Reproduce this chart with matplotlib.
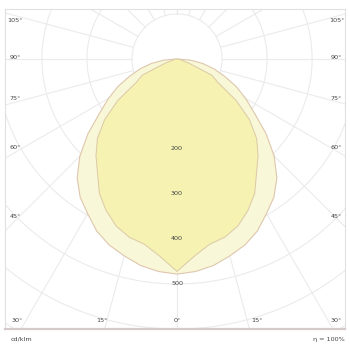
import numpy as np
import matplotlib
import matplotlib.pyplot as plt
matplotlib.use('Agg')

# luminous intensity (cd/klm) against gamma angle, one half of each plane
gamma = [0, 5, 10, 15, 20, 25, 30, 35, 40, 45, 50, 55, 60, 65, 70, 75, 80, 85, 90]
c90_c270 = [478, 474, 466, 453, 440, 422, 397, 375, 345, 305, 258, 210, 176, 145, 112, 85, 58, 30, 0]
c0_c180 = [472, 440, 418, 410, 395, 372, 345, 308, 280, 250, 210, 160, 105, 85, 30, 10, 5, 2, 0]

rings = [100, 200, 300, 400, 500, 600, 700]
ring_labels = ['200', '300', '400', '500']
spokes = list(range(0, 360, 15))
side_labels = ['105°', '90°', '75°', '60°', '45°']
bottom_labels = ['30°', '15°', '0°', '15°', '30°']


def polar_xy(g, r):
    g = np.asarray(g, dtype=float)
    r = np.asarray(r, dtype=float)
    ang = np.concatenate([-g[::-1], g[1:]])
    rr = np.concatenate([r[::-1], r[1:]])
    return rr * np.sin(np.radians(ang)), -rr * np.cos(np.radians(ang))


fig = plt.figure(figsize=(3.5, 3.46), dpi=100)
ax = fig.add_axes([5 / 350, 17 / 346, 340 / 350, 320 / 346])
ax.set_xlim(-382, 373)
ax.set_ylim(-600, 111)
ax.set_xticks([])
ax.set_yticks([])
for s in ax.spines.values():
    s.set_color('#e0e0e0')
    s.set_linewidth(0.8)
ax.spines['bottom'].set_color('#d4caca')
ax.spines['bottom'].set_linewidth(1.6)

grid_col = '#ebebeb'
t = np.linspace(0, 2 * np.pi, 400)
for r in rings:
    ax.plot(r * np.sin(t), r * np.cos(t), color=grid_col, lw=0.8, zorder=1)
for a in spokes:
    rr = np.array([100, 1000])
    ax.plot(rr * np.sin(np.radians(a)), -rr * np.cos(np.radians(a)),
            color=grid_col, lw=0.8, zorder=1)

x1, y1 = polar_xy(gamma, c90_c270)
ax.fill(x1, y1, facecolor='#f8f7d4', edgecolor='#dcc2a8', lw=0.8, alpha=0.92, zorder=2)
x2, y2 = polar_xy(gamma, c0_c180)
ax.fill(x2, y2, facecolor='#f5f2ae', edgecolor='#d9c4a4', lw=0.7, alpha=0.9, zorder=3)

txt = dict(fontsize=4.6, color='#444444', ha='center', va='center', zorder=5)
for lab in ring_labels:
    ax.text(0, -int(lab), lab, **txt)

side_y = [0.9625, 0.847, 0.719, 0.566, 0.353]
for lab, fy in zip(side_labels, side_y):
    ax.text(0.03, fy, lab, transform=ax.transAxes, **txt)
    ax.text(0.975, fy, lab, transform=ax.transAxes, **txt)

bottom_x = [0.035, 0.285, 0.506, 0.741, 0.975]
for lab, fx in zip(bottom_labels, bottom_x):
    ax.text(fx, 0.025, lab, transform=ax.transAxes, **txt)

fig.text(0.03, 0.02, 'cd/klm', fontsize=4.6, color='#444444', ha='left', va='center')
fig.text(0.985, 0.02, 'η = 100%', fontsize=4.6, color='#444444', ha='right', va='center')

plt.savefig('out.png', dpi=100, facecolor='white')
